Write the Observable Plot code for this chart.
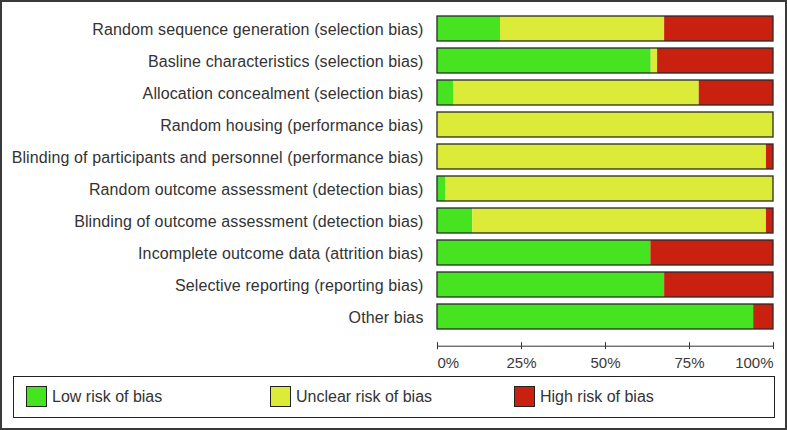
<!DOCTYPE html>
<html>
<head>
<meta charset="utf-8">
<script src="https://cdn.jsdelivr.net/npm/d3@7"></script>
<script src="https://cdn.jsdelivr.net/npm/@observablehq/plot@0.6"></script>
<style>
  html, body { margin: 0; padding: 0; background: #fff; }
  #wrap { position: relative; width: 787px; height: 430px; overflow: hidden; }
  #chart { position: absolute; left: 0; top: 0; }
  #chart svg [aria-label="y-axis tick label"] { letter-spacing: 0.11px; }
  #border { position: absolute; left: 0; top: 0; width: 787px; height: 430px; box-sizing: border-box; border: 2px solid #3a3a3a; pointer-events: none; }
  #legend { position: absolute; left: 13px; top: 376px; width: 762px; height: 42px; box-sizing: border-box; border: 1px solid #222;
            font-family: "Liberation Sans", Arial, sans-serif; font-size: 16px; color: #333; }
  .item { position: absolute; top: 9px; display: flex; align-items: center; }
  .sw { width: 19px; height: 19px; border: 1px solid #222; margin-right: 5px; }
</style>
</head>
<body>
<div id="wrap">
  <div id="chart"></div>
  <div id="legend"></div>
  <div id="border"></div>
</div>
<script>
const categories = [
  "Random sequence generation (selection bias)",
  "Basline characteristics (selection bias)",
  "Allocation concealment (selection bias)",
  "Random housing (performance bias)",
  "Blinding of participants and personnel (performance bias)",
  "Random outcome assessment (detection bias)",
  "Blinding of outcome assessment (detection bias)",
  "Incomplete outcome data (attrition bias)",
  "Selective reporting (reporting bias)",
  "Other bias"
];
const lowRisk     = [18.75, 63.6,  4.8,   0,    0,    2.5, 10.5, 63.5, 67.6, 94.1];
const unclearRisk = [48.85,  1.9, 73.1, 100, 97.9,   97.5, 87.4,  0,    0,    0  ];
const highRisk    = [32.4,  34.5, 22.1,   0,    2.1,  0,    2.1, 36.5, 32.4,  5.9];
const riskLabels = ["Low risk of bias", "Unclear risk of bias", "High risk of bias"];
const riskColors = ["#45e320", "#dbeb38", "#c9200f"];
const tickValues = [0, 25, 50, 75, 100];
const tickLabels = ["0%", "25%", "50%", "75%", "100%"];

const rows = [];
categories.forEach((c, i) => {
  rows.push({cat: c, risk: riskLabels[0], v: lowRisk[i] / 100});
  rows.push({cat: c, risk: riskLabels[1], v: unclearRisk[i] / 100});
  rows.push({cat: c, risk: riskLabels[2], v: highRisk[i] / 100});
});
const totals = categories.map(c => ({cat: c, v: 1}));
const ticks = tickValues.map((t, i) => ({x: t / 100, label: tickLabels[i]}));

const H = 372, MT = 5, MB = H - 345.7;
const frameH = H - MT - MB;
const tickText = {x: "x", text: "label", frameAnchor: "bottom", lineAnchor: "middle", dy: 17, fontSize: 15, fill: "#3a3a3a"};

const chart = Plot.plot({
  width: 787,
  height: H,
  marginLeft: 437,
  marginRight: 14,
  marginTop: MT,
  marginBottom: MB,
  style: {fontFamily: "Liberation Sans, Arial, sans-serif", fontSize: "16px", color: "#333", background: "transparent"},
  x: {domain: [0, 1], axis: null},
  y: {domain: categories, range: [5.8, 338.3], padding: 0.23, axis: null},
  color: {domain: riskLabels, range: riskColors},
  marks: [
    Plot.barX(rows, {x: "v", y: "cat", fill: "risk"}),
    Plot.barX(totals, {x: "v", y: "cat", fill: "none", stroke: "#2a2a2a", strokeWidth: 1.3}),
    Plot.axisY({tickSize: 0, tickPadding: 14, label: null, fontSize: 16, dy: 1}),
    Plot.frame({anchor: "bottom", stroke: "#333"}),
    Plot.ruleX(ticks, {x: "x", stroke: "#333", insetTop: frameH - 3.5, insetBottom: -3.5}),
    Plot.text(ticks.slice(0, 1), {...tickText, textAnchor: "start"}),
    Plot.text(ticks.slice(1, 4), {...tickText, textAnchor: "middle"}),
    Plot.text(ticks.slice(4), {...tickText, textAnchor: "end"})
  ]
});
document.getElementById("chart").appendChild(chart);

const legend = document.getElementById("legend");
const legendX = [12, 256, 500];
riskLabels.forEach((lab, i) => {
  const item = document.createElement("div");
  item.className = "item";
  item.style.left = legendX[i] + "px";
  const sw = document.createElement("div");
  sw.className = "sw";
  sw.style.background = riskColors[i];
  const t = document.createElement("span");
  t.textContent = lab;
  item.appendChild(sw);
  item.appendChild(t);
  legend.appendChild(item);
});
</script>
</body>
</html>
